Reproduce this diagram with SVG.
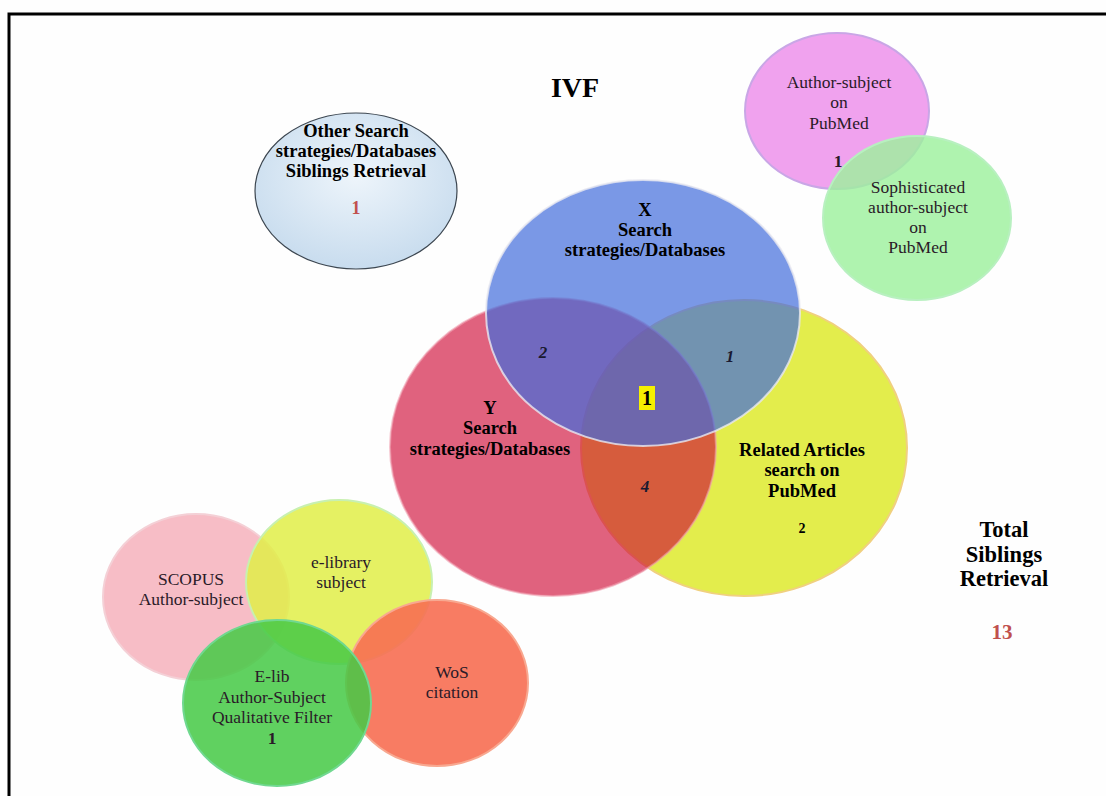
<svg xmlns="http://www.w3.org/2000/svg" width="1106" height="796" viewBox="0 0 1106 796">
  <defs>
    <radialGradient id="gOther" cx="50%" cy="40%" r="60%">
      <stop offset="0" stop-color="#eef5fb"/>
      <stop offset="1" stop-color="#c8dcee"/>
    </radialGradient>
  </defs>
  <style>
    text { font-family: "Liberation Serif", "Times New Roman", serif; text-anchor: middle; fill: #000; }
    .b { font-weight: bold; font-size: 18.5px; }
    .r { font-size: 17.5px; fill: #2a1a28; }
    .it { font-style: italic; font-weight: bold; font-size: 17px; fill: #1a1a30; }
    .red { fill: #c0504d; font-weight: bold; }
    .soft { stroke-width: 2; }
  </style>

  <!-- page frame -->
  <rect x="0" y="0" width="1106" height="796" fill="#fefefe"/>
  <path d="M9,796 V14 H1106" fill="none" stroke="#000" stroke-width="3"/>

  <text x="575" y="97" style="font-weight:bold;font-size:28px">IVF</text>

  <!-- other strategies bubble -->
  <g id="other-search">
    <ellipse cx="356" cy="191" rx="101" ry="78" fill="url(#gOther)" stroke="#3c4650" stroke-width="1.2"/>
    <text class="b" x="356" y="137">Other Search</text>
    <text class="b" x="356" y="157">strategies/Databases</text>
    <text class="b" x="356" y="177">Siblings Retrieval</text>
    <text class="red" x="356" y="214" style="font-size:18px">1</text>
  </g>

  <!-- PubMed author-subject pair -->
  <g id="author-subject-pubmed">
    <ellipse cx="837" cy="111" rx="92" ry="78" fill="#f0a2ee" stroke="#c9a6e6" class="soft"/>
    <text class="r" x="839" y="88">Author-subject</text>
    <text class="r" x="839" y="108">on</text>
    <text class="r" x="839" y="129">PubMed</text>
    <text class="r" x="838" y="167" style="font-weight:bold">1</text>
  </g>
  <g id="sophisticated-pubmed">
    <ellipse cx="917" cy="218" rx="94" ry="82" fill="#9ef09e" fill-opacity="0.82" stroke="#b8f0c0" class="soft"/>
    <text class="r" x="918" y="193">Sophisticated</text>
    <text class="r" x="918" y="213">author-subject</text>
    <text class="r" x="918" y="233">on</text>
    <text class="r" x="918" y="253">PubMed</text>
  </g>

  <!-- main three-set Venn -->
  <g id="related-articles">
    <ellipse cx="744" cy="448" rx="163" ry="148" fill="#e3ed4c" stroke="#f0d080" class="soft"/>
  </g>
  <g id="y-search">
    <ellipse cx="553" cy="447" rx="163" ry="149" fill="#ce0935" fill-opacity="0.64" stroke="#f0a0b0" stroke-opacity="0.6" class="soft"/>
  </g>
  <g id="x-search">
    <ellipse cx="643" cy="313" rx="157" ry="133" fill="#426cdb" fill-opacity="0.7" stroke="#e8e8f0" stroke-opacity="0.8" class="soft"/>
  </g>

  <g id="venn-labels">
    <text class="b" x="645" y="216">X</text>
    <text class="b" x="645" y="236">Search</text>
    <text class="b" x="645" y="256">strategies/Databases</text>
    <text class="b" x="490" y="414">Y</text>
    <text class="b" x="490" y="434">Search</text>
    <text class="b" x="490" y="455">strategies/Databases</text>
    <text class="b" x="802" y="456">Related Articles</text>
    <text class="b" x="802" y="476">search on</text>
    <text class="b" x="802" y="497">PubMed</text>
    <text class="b" x="802" y="533" style="font-size:14px">2</text>
    <text class="it" x="543" y="358">2</text>
    <text class="it" x="730" y="362">1</text>
    <text class="it" x="645" y="492">4</text>
    <rect x="639" y="386" width="16" height="24" fill="#f5f000"/>
    <text class="b" x="647" y="405" style="font-size:20px">1</text>
  </g>

  <!-- lower-left cluster -->
  <g id="scopus">
    <ellipse cx="196" cy="597" rx="93" ry="83" fill="#f7bdc6" stroke="#f4d0d6" class="soft"/>
    <text class="r" x="191" y="585">SCOPUS</text>
    <text class="r" x="191" y="605">Author-subject</text>
  </g>
  <g id="e-library">
    <ellipse cx="339" cy="582" rx="93" ry="82" fill="#e0ee48" fill-opacity="0.85" stroke="#c8f0b0" class="soft"/>
    <text class="r" x="341" y="568">e-library</text>
    <text class="r" x="341" y="588">subject</text>
  </g>
  <g id="wos">
    <ellipse cx="437" cy="683" rx="91" ry="83" fill="#f76e52" fill-opacity="0.9" stroke="#f8a890" class="soft"/>
    <text class="r" x="452" y="678">WoS</text>
    <text class="r" x="452" y="698">citation</text>
  </g>
  <g id="elib-filter">
    <ellipse cx="277" cy="703" rx="94" ry="83" fill="#46c946" fill-opacity="0.86" stroke="#70d890" class="soft"/>
    <text class="r" x="272" y="682">E-lib</text>
    <text class="r" x="272" y="703">Author-Subject</text>
    <text class="r" x="272" y="723">Qualitative Filter</text>
    <text class="r" x="272" y="744" style="font-weight:bold">1</text>
  </g>

  <!-- total -->
  <g id="total">
    <text x="1004" y="537" style="font-weight:bold;font-size:22.5px">Total</text>
    <text x="1004" y="562" style="font-weight:bold;font-size:22.5px">Siblings</text>
    <text x="1004" y="586" style="font-weight:bold;font-size:22.5px">Retrieval</text>
    <text class="red" x="1002" y="639" style="font-size:21px">13</text>
  </g>
</svg>
